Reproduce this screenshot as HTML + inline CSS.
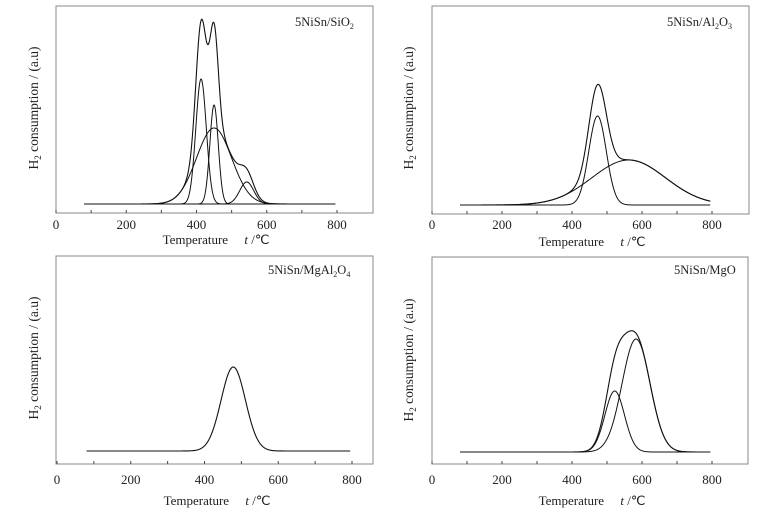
<!DOCTYPE html>
<html><head><meta charset="utf-8">
<style>
body{margin:0;background:#fff;}
svg text{font-family:"Liberation Serif",serif;fill:#222;}
</style></head>
<body>
<svg id="fig" width="774" height="510" viewBox="0 0 774 510" xmlns="http://www.w3.org/2000/svg"></svg>
<script>
// Temperature ticks
const xTicks = [0, 200, 400, 600, 800];
const xMinorTicks = [100, 300, 500, 700];
// Gaussian component parameters per panel: centers (°C), heights (a.u.), widths (sigma °C)
const sio2Centers = [413, 450, 450, 543];
const sio2Heights = [125, 99, 76, 22];
const sio2Sigmas  = [15, 12, 50, 20];
const al2o3Centers = [473, 562];
const al2o3Heights = [89, 45];
const al2o3Sigmas  = [25, 105];
const mgal2o4Centers = [478];
const mgal2o4Heights = [84];
const mgal2o4Sigmas  = [33];
const mgoCenters = [522, 583];
const mgoHeights = [61, 113];
const mgoSigmas  = [28, 40];
const tStart = 80, tEnd = 795;

const NS = "http://www.w3.org/2000/svg";
const svg = document.getElementById('fig');
function mk(tag, attrs, parent){const e=document.createElementNS(NS,tag);for(const k in attrs)e.setAttribute(k,attrs[k]);(parent||svg).appendChild(e);return e;}

const panels = [
 {name:'sio2', box:[56,6,373,213], x0:56, x800:337, base:204, tickY:229, xlabY:244, ylabX:33, ylabY:108, lab:['5NiSn/SiO','2',''], labX:295, labY:26, c:sio2Centers,h:sio2Heights,s:sio2Sigmas},
 {name:'al2o3', box:[432,6,749,214], x0:432, x800:712, base:205, tickY:229, xlabY:246, ylabX:408, ylabY:108, lab:['5NiSn/Al','2','O','3'], labX:667, labY:26, c:al2o3Centers,h:al2o3Heights,s:al2o3Sigmas},
 {name:'mgal2o4', box:[56,256,373,464], x0:57, x800:352, base:451, tickY:484, xlabY:505, ylabX:33, ylabY:358, lab:['5NiSn/MgAl','2','O','4'], labX:268, labY:274, c:mgal2o4Centers,h:mgal2o4Heights,s:mgal2o4Sigmas},
 {name:'mgo', box:[432,257,748,464], x0:432, x800:712, base:452, tickY:484, xlabY:505, ylabX:408, ylabY:360, lab:['5NiSn/MgO'], labX:674, labY:274, c:mgoCenters,h:mgoHeights,s:mgoSigmas}
];

panels.forEach(p=>{
  const g = mk('g',{});
  
  
  const xs = t => p.x0 + (t/800)*(p.x800-p.x0);
  const ys = v => p.base - v;
  const [l,t,r,b]=p.box;
  const frame = mk('rect',{x:l,y:t,width:r-l,height:b-t,fill:'none',stroke:'#888','stroke-width':1},g);
  
  
  xTicks.forEach(v=>{
    const tk = mk('line',{x1:xs(v),x2:xs(v),y1:b,y2:b-3,stroke:'#444'},g);
    
    
    const tl = mk('text',{x:xs(v),y:p.tickY,'text-anchor':'middle','font-size':13},g);
    tl.textContent=v;
    
    
  });
  xMinorTicks.forEach(v=>{
    const tk = mk('line',{x1:xs(v),x2:xs(v),y1:b,y2:b-3,stroke:'#444'},g);
    
    
  });
  // x label
  const xl = mk('text',{x:p.x0+160,y:p.xlabY,'text-anchor':'middle','font-size':13},g);
  xl.innerHTML='Temperature\u00a0\u00a0\u00a0\u00a0\u00a0<tspan font-style="italic">t</tspan> /℃';
  
  
  // y label
  const yl = mk('text',{x:0,y:0,'text-anchor':'middle','font-size':13.5,transform:`translate(${p.ylabX+5},${p.ylabY}) rotate(-90)`},g);
  yl.innerHTML='H<tspan font-size="9" dy="3">2</tspan><tspan dy="-3"> consumption / (a.u)</tspan>';
  
  
  // sample label
  const sl = mk('text',{x:p.labX,y:p.labY,'font-size':12.5},g);
  let html=p.lab[0];
  if(p.lab.length>1){html+=`<tspan font-size="8" dy="3">${p.lab[1]}</tspan>`; if(p.lab[2]) html+=`<tspan dy="-3">${p.lab[2]}</tspan>`; if(p.lab[3]) html+=`<tspan font-size="8" dy="3">${p.lab[3]}</tspan>`;}
  sl.innerHTML=html;
  
  
  // curves
  const gauss=(i,T)=>p.h[i]*Math.exp(-((T-p.c[i])**2)/(2*p.s[i]**2));
  const build=f=>{let d='';for(let T=tStart;T<=tEnd;T+=1){d+=(T===tStart?'M':'L')+xs(T).toFixed(2)+','+ys(f(T)).toFixed(2);}return d;};
  if(p.c.length>1){
    p.c.forEach((c,i)=>{
      const pc = mk('path',{d:build(T=>gauss(i,T)),fill:'none',stroke:'#111','stroke-width':1},g);
      
      
    });
  }
  const tot = mk('path',{d:build(T=>p.c.reduce((s,_,i)=>s+gauss(i,T),0)),fill:'none',stroke:'#111','stroke-width':1.1},g);
  
  
});
</script>
</body></html>
